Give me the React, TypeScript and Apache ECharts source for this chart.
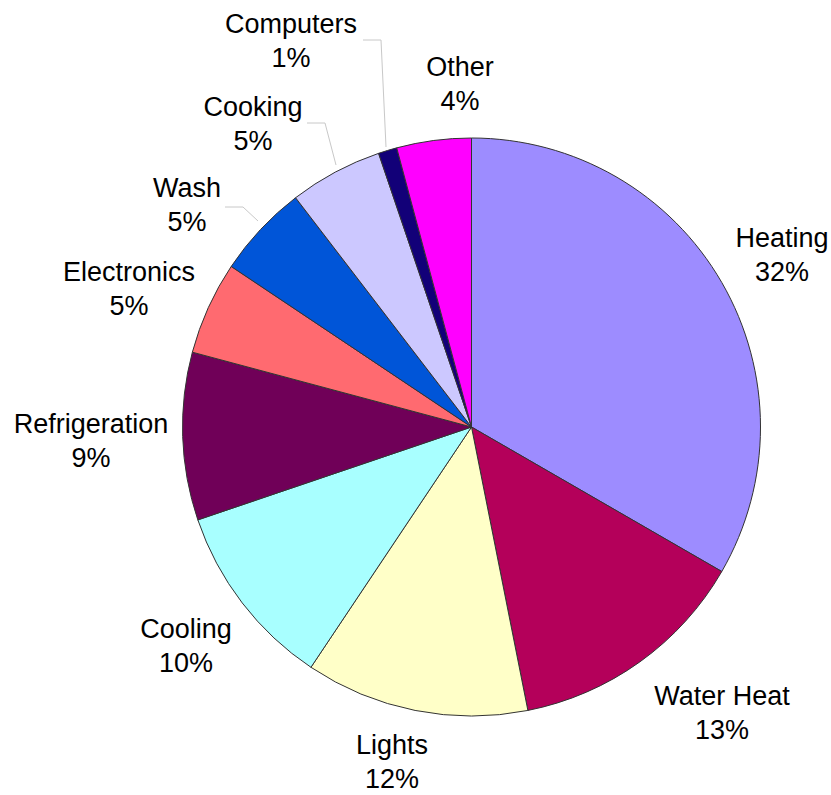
import React, { useEffect, useRef } from "react";
import * as echarts from "echarts";

const categories = ["Heating", "Water Heat", "Lights", "Cooling", "Refrigeration", "Electronics", "Wash", "Cooking", "Computers", "Other"];
const percents = [32, 13, 12, 10, 9, 5, 5, 5, 1, 4];
const colors = ["#9d8cff", "#b4005a", "#ffffc8", "#a8ffff", "#700058", "#ff6a70", "#0055d8", "#ccc8ff", "#120078", "#ff00ff"];

// label block centres (layout only)
const labelPos: [number, number][] = [
  [782, 255], [722, 713], [392, 762], [186, 646], [91, 441],
  [129, 289], [187, 205], [253, 124], [291, 41], [460, 84],
];
const leaderLines: Record<number, number[][]> = {
  6: [[258, 221], [243, 207], [225, 207]],
  7: [[336, 165], [325, 123], [307, 123]],
  8: [[386, 147], [381, 40], [363, 40]],
};

export default function App() {
  const ref = useRef<HTMLDivElement>(null);
  useEffect(() => {
    if (!ref.current) return;
    const chart = echarts.init(ref.current, null, { renderer: "svg" });
    chart.setOption({
      animation: false,
      backgroundColor: "#ffffff",
      series: [
        {
          type: "pie",
          center: [471.5, 427],
          radius: [0, 289],
          startAngle: 90,
          clockwise: true,
          data: categories.map((name, i) => ({
            name,
            value: percents[i],
            itemStyle: { color: colors[i] },
            labelLine: { show: leaderLines[i] !== undefined },
          })),
          itemStyle: { borderColor: "#333333", borderWidth: 1 },
          label: {
            show: true,
            position: "outside",
            formatter: "{b}\n{c}%",
            fontFamily: "Liberation Sans, Arial, sans-serif",
            fontSize: 27,
            lineHeight: 34,
            color: "#000000",
            align: "center",
            overflow: "none",
            edgeDistance: 0,
          },
          labelLine: {
            show: true,
            lineStyle: { color: "#c8c8c8", width: 1 },
          },
          labelLayout: (params: any) => {
            const i = params.dataIndex;
            const p = labelPos[i];
            const out: any = { x: p[0], y: p[1], align: "center", verticalAlign: "middle" };
            if (leaderLines[i]) out.labelLinePoints = leaderLines[i];
            return out;
          },
        },
      ],
    });
    return () => chart.dispose();
  }, []);
  return <div ref={ref} style={{ position: "fixed", left: 0, top: 0, width: 831, height: 795 }} />;
}
